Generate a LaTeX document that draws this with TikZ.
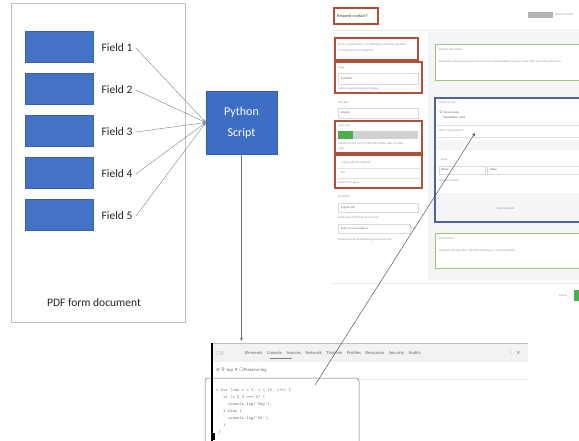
\documentclass[tikz,border=0pt]{standalone}
\usepackage{fontspec}
\setmainfont{Carlito}
\newfontfamily\symfont{DejaVu Sans}
\usepackage{xcolor}
\usepackage{tikz}
\usetikzlibrary{arrows}

\definecolor{fieldblue}{HTML}{4472C4}
\definecolor{pyblue}{HTML}{3E6DC4}
\definecolor{docgrey}{HTML}{BFBFBF}
\definecolor{markred}{HTML}{B0503A}
\definecolor{markgreen}{HTML}{A3C27C}
\definecolor{markblue}{HTML}{4D62A8}
\definecolor{paneback}{HTML}{F4F5F7}
\definecolor{shotgrey}{HTML}{8A8F96}
\definecolor{okgreen}{HTML}{4CAF50}

\tikzset{
	field/.style={fill=fieldblue,draw=fieldblue!85!black,line width=0.3pt,
		minimum width=68pt,minimum height=31pt,inner sep=0pt},
	fieldlabel/.style={font=\fontsize{11.5}{13}\selectfont,text=black!85},
	pybox/.style={fill=pyblue,draw=pyblue!85!black,line width=0.3pt,text=white,
		minimum width=71pt,minimum height=63pt,align=center,
		font=\fontsize{12}{21}\selectfont},
	shottext/.style={font=\fontsize{2.9}{3.4}\selectfont,text=shotgrey,
		inner sep=0pt,anchor=west},
	codetext/.style={font=\ttfamily\fontsize{4.4}{7}\selectfont,text=shotgrey!80!black,
		inner sep=0pt,anchor=west,align=left},
	redmark/.style={draw=markred,line width=1.1pt},
	greenmark/.style={draw=markgreen,line width=0.9pt},
	inputbox/.style={draw=black!15,line width=0.3pt,fill=white},
}

\begin{document}
\begin{tikzpicture}[x=1pt,y=-1pt]
		\useasboundingbox[fill=white] (0,0) rectangle (579,441);
		%
		% PDF form
		\node[draw=docgrey,line width=0.6pt,minimum width=174pt,minimum height=319pt] (doc) at (98,162.5) {};
		\node[fieldlabel] (doclabel) at (94,303) {PDF form document};
		\foreach \i in {1,...,5} {
			\node[field] (r\i) at (59,4.5+42*\i) {};
			\node[fieldlabel] (f\i) at (117,6+42*\i) {Field \i};
		}
		\node[pybox] (py) at (241.5,122.5) {Python\\Script};
		%
		\foreach \i in {1,...,5}
			\draw[->,>=stealth,black!45,line width=0.45pt] (f\i.east) -- (py.west);
		%
		% web form screenshot
		\fill[paneback] (428,32) rectangle (579,280);
		\node[shottext,font=\fontsize{4.4}{5}\selectfont,text=black!75] (title) at (337,16) {Request contact?};
		\draw[redmark] (334,8) rectangle (378,24);
		\fill[black!30] (528,12) rectangle (553,18);
		\node[shottext] (preview) at (555,15) {Preview on left};
		\draw[black!8,line width=0.5pt] (333,30) -- (579,30);
		%
		\node[shottext] at (338,45) {This is a sample form. Try starting this with your questions};
		\node[shottext] at (338,51) {to create amount in Pipedrive.};
		\draw[redmark] (335,38) rectangle (418,60);
		%
		\node[shottext] at (338,68) {Stage};
		\draw[inputbox] (338,73) rectangle (418,84);
		\node[shottext,text=black!60] at (341,78.5) {Qualified};
		\node[shottext] at (412,78.5) {v};
		\node[shottext] at (338,89) {Select a stage for deals in this pipe};
		\draw[redmark] (335,62) rectangle (422,93);
		%
		\node[shottext] at (338,103) {Title pick};
		\draw[inputbox] (338,108) rectangle (418,118);
		\node[shottext,text=black!60] at (341,113) {Regular};
		%
		\node[shottext] at (338,126) {Lead score};
		\fill[black!18] (338,131) rectangle (418,139);
		\fill[okgreen] (338,131) rectangle (353,139);
		\node[shottext] at (338,144) {Use this for the score of the lead and the state of a deal};
		\node[shottext] at (338,149) {value};
		\draw[redmark] (335,121) rectangle (422,153);
		%
		\node[shottext] at (341,163) {I agree with the legal info};
		\draw[black!12,line width=0.3pt] (337,168) -- (420,168) (337,178) -- (420,178);
		\node[shottext] at (341,173) {Yes};
		\node[shottext] at (338,183) {Select all I'll agree};
		\draw[redmark] (335,155) rectangle (422,188);
		%
		\node[shottext] at (338,197) {Comment};
		\draw[inputbox] (338,203) rectangle (418,212);
		\node[shottext,text=black!60] at (341,207.5) {English (US)};
		\node[shottext] at (338,218) {Send copy of the form to my email};
		\draw[inputbox] (338,224) rectangle (410,233);
		\node[shottext,text=black!60] at (341,228.5) {Enter an email address};
		\node[shottext] at (411,228.5) {Add};
		\node[shottext] at (338,240) {Designate form to something you want to see};
		%
		\fill[white] (435,44) rectangle (579,80);
		\node[shottext] at (439,50) {Product description};
		\node[shottext] at (439,62) {Please fill out the form below and one of our representatives will be in touch with you in the next hours.};
		\draw[greenmark] (579,44) -- (435,44) -- (435,80) -- (579,80);
		%
		\fill[white] (435,98) rectangle (579,222);
		\node[shottext] at (439,103) {Person or Org};
		\node[shottext,text=black!70] at (439,112) {$\circ$ Person name};
		\node[shottext,text=black!70] at (443,118) {Organization name};
		\draw[black!12,line width=0.3pt] (436,125) -- (579,125) (436,137) -- (579,137);
		\node[shottext] at (439,131) {Who is your contact?};
		\fill[paneback] (436,141) rectangle (579,150);
		\node[shottext] at (441,160) {Stage};
		\draw[inputbox] (439,166) rectangle (485,174);
		\node[shottext,text=black!70] at (441,170) {Phone};
		\draw[inputbox] (487,166) rectangle (579,174);
		\node[shottext,text=black!70] at (490,170) {Value};
		\node[shottext] at (439,181) {Add your contact};
		\fill[paneback] (436,193) rectangle (579,221);
		\node[shottext,anchor=center] (addfield) at (505,209) {+ Add new field};
		\draw[markblue,line width=1.1pt] (579,98) -- (435,98) -- (435,222) -- (579,222);
		%
		\fill[white] (435,233) rectangle (579,268);
		\node[shottext] at (439,239) {Call to action};
		\node[shottext] at (439,251) {Thank you for your time. We will contact you as soon as possible.};
		\draw[greenmark] (579,233) -- (435,233) -- (435,268) -- (579,268);
		%
		\draw[black!10,line width=0.5pt] (333,283) -- (579,283);
		\node[shottext] (cancel) at (559,295.5) {Cancel};
		\fill[okgreen] (574,290) rectangle (579,301);
		%
		% console screenshot
		\fill[black!5] (212,343) rectangle (528,362);
		\draw[black!25,line width=0.5pt] (212,343) -- (528,343);
		\node[shottext,font=\fontsize{4}{5}\selectfont,text=black!60] at (216,353) {\symfont ⬚\,\,▯};
		\node[shottext,font=\fontsize{4.6}{5}\selectfont,text=black!60] (tabs) at (245,353)
			{Elements\quad Console\quad Sources\quad Network\quad Timeline\quad Profiles\quad Resources\quad Security\quad Audits};
		\draw[black!50,line width=0.4pt] (270,358.5) -- (292,358.5);
		\node[shottext,font=\symfont\fontsize{5}{5}\selectfont,text=black!60] at (508,353) {⋮\ \ ×};
		\node[shottext,font=\fontsize{4.6}{5}\selectfont,text=black!60] (toprow) at (216,370)
			{{\symfont ⊘\ ∇}\ \ top\ \ {\symfont ▾}\ \ {\symfont ☐}Preserve log};
		\draw[black!10,line width=0.5pt] (359,379) -- (528,379);
		\draw[black!55,line width=0.5pt,rounded corners=3pt] (205,441) -- (205,378) -- (359,378) -- (359,441);
		\node[codetext] (code) at (216,411)
			{> for (var i = 0; i < 10; i++) \{\\
			\ \ \ if (i \% 3 === 0) \{\\
			\ \ \ \ \ console.log('Hey');\\
			\ \ \ \} else \{\\
			\ \ \ \ \ console.log('Hi');\\
			\ \ \ \}\\
			\ \}};
		\draw[black,line width=1.2pt] (212,343) -- (212,441);
		\fill[black] (211,433) rectangle (215,440);
		%
		% connectors to and from the console
		\coordinate (consoletop) at (241.5,341);
		\coordinate (codeline) at (315,385);
		\coordinate (whoinput) at (475,133);
		\draw[->,>=stealth,black!55,line width=0.5pt] (py.south) -- (consoletop);
		\draw[->,>=stealth,black!65,line width=0.5pt] (codeline) -- (whoinput);
		\end{tikzpicture}
\end{document}
